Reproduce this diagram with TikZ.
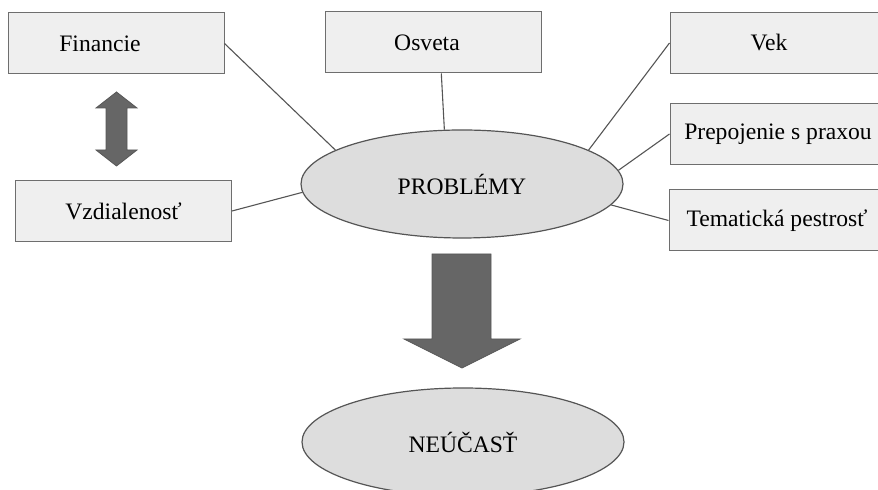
\documentclass[tikz,border=0pt]{standalone}
\usepackage{fontspec}
\setmainfont{Liberation Serif}
\usetikzlibrary{shapes.geometric}
\definecolor{boxfill}{HTML}{EFEFEF}
\definecolor{boxline}{HTML}{6E6E6E}
\definecolor{ovalfill}{HTML}{DDDDDD}
\definecolor{ovalline}{HTML}{555555}
\definecolor{arrowfill}{HTML}{666666}
\definecolor{linkgray}{HTML}{555555}

\begin{document}
\begin{tikzpicture}[x=0.5pt,y=-0.5pt,
  box/.style={draw=boxline,fill=boxfill,line width=0.5pt,minimum width=108pt,
    minimum height=30.5pt,inner sep=0pt,font=\fontsize{11.8}{14}\selectfont},
  oval/.style={ellipse,draw=ovalline,fill=ovalfill,line width=0.6pt,minimum width=161pt,
    minimum height=54pt,inner sep=0pt,font=\fontsize{11.8}{14}\selectfont},
  link/.style={draw=linkgray,line width=0.55pt},
  bigarrow/.style={fill=arrowfill,draw=arrowfill!85!black,line width=0.4pt}]
\useasboundingbox (0,0) rectangle (878,490);
\clip (0,0) rectangle (878,490);
%\draw[help lines] (0,0) grid[step=50] (878,490);
    \node[oval] (prob) at (462,184) {PROBLÉMY};
    \node[oval] (neu) at (463,442) {NEÚČASŤ};
\node[box] (fin) at (116,43.5) {Financie\hspace*{16pt}};
\node[box] (osv) at (433,42.5) {Osveta\hspace*{6pt}};
\node[box] (vek) at (778,43) {Vek\hspace*{9pt}};
\node[box] (pre) at (778,134) {Prepojenie s praxou};
\node[box] (tem) at (777,220.5) {Tematická pestrosť};
\node[box] (vzd) at (123.5,211) {Vzdialenosť};
\draw[link] (fin.east) -- (prob.165);
\draw[link] (osv.285) -- (prob.108);
\draw[link] (vek.west) -- (prob.15);
\draw[link] (pre.west) -- (prob.5);
\draw[link] (tem.west) -- (prob.-8);
\draw[link] (vzd.east) -- (prob.183);
% block arrows
\draw[bigarrow] (116.5,92) -- (137,108) -- (127,108) -- (127,150) -- (137,150) -- (116.5,166)
  -- (96,150) -- (106,150) -- (106,108) -- (96,108) -- cycle;
\draw[bigarrow] (432,254) -- (491,254) -- (491,339) -- (520,339) -- (462,368)
  -- (404,339) -- (432,339) -- cycle;

  \end{tikzpicture}
\end{document}
